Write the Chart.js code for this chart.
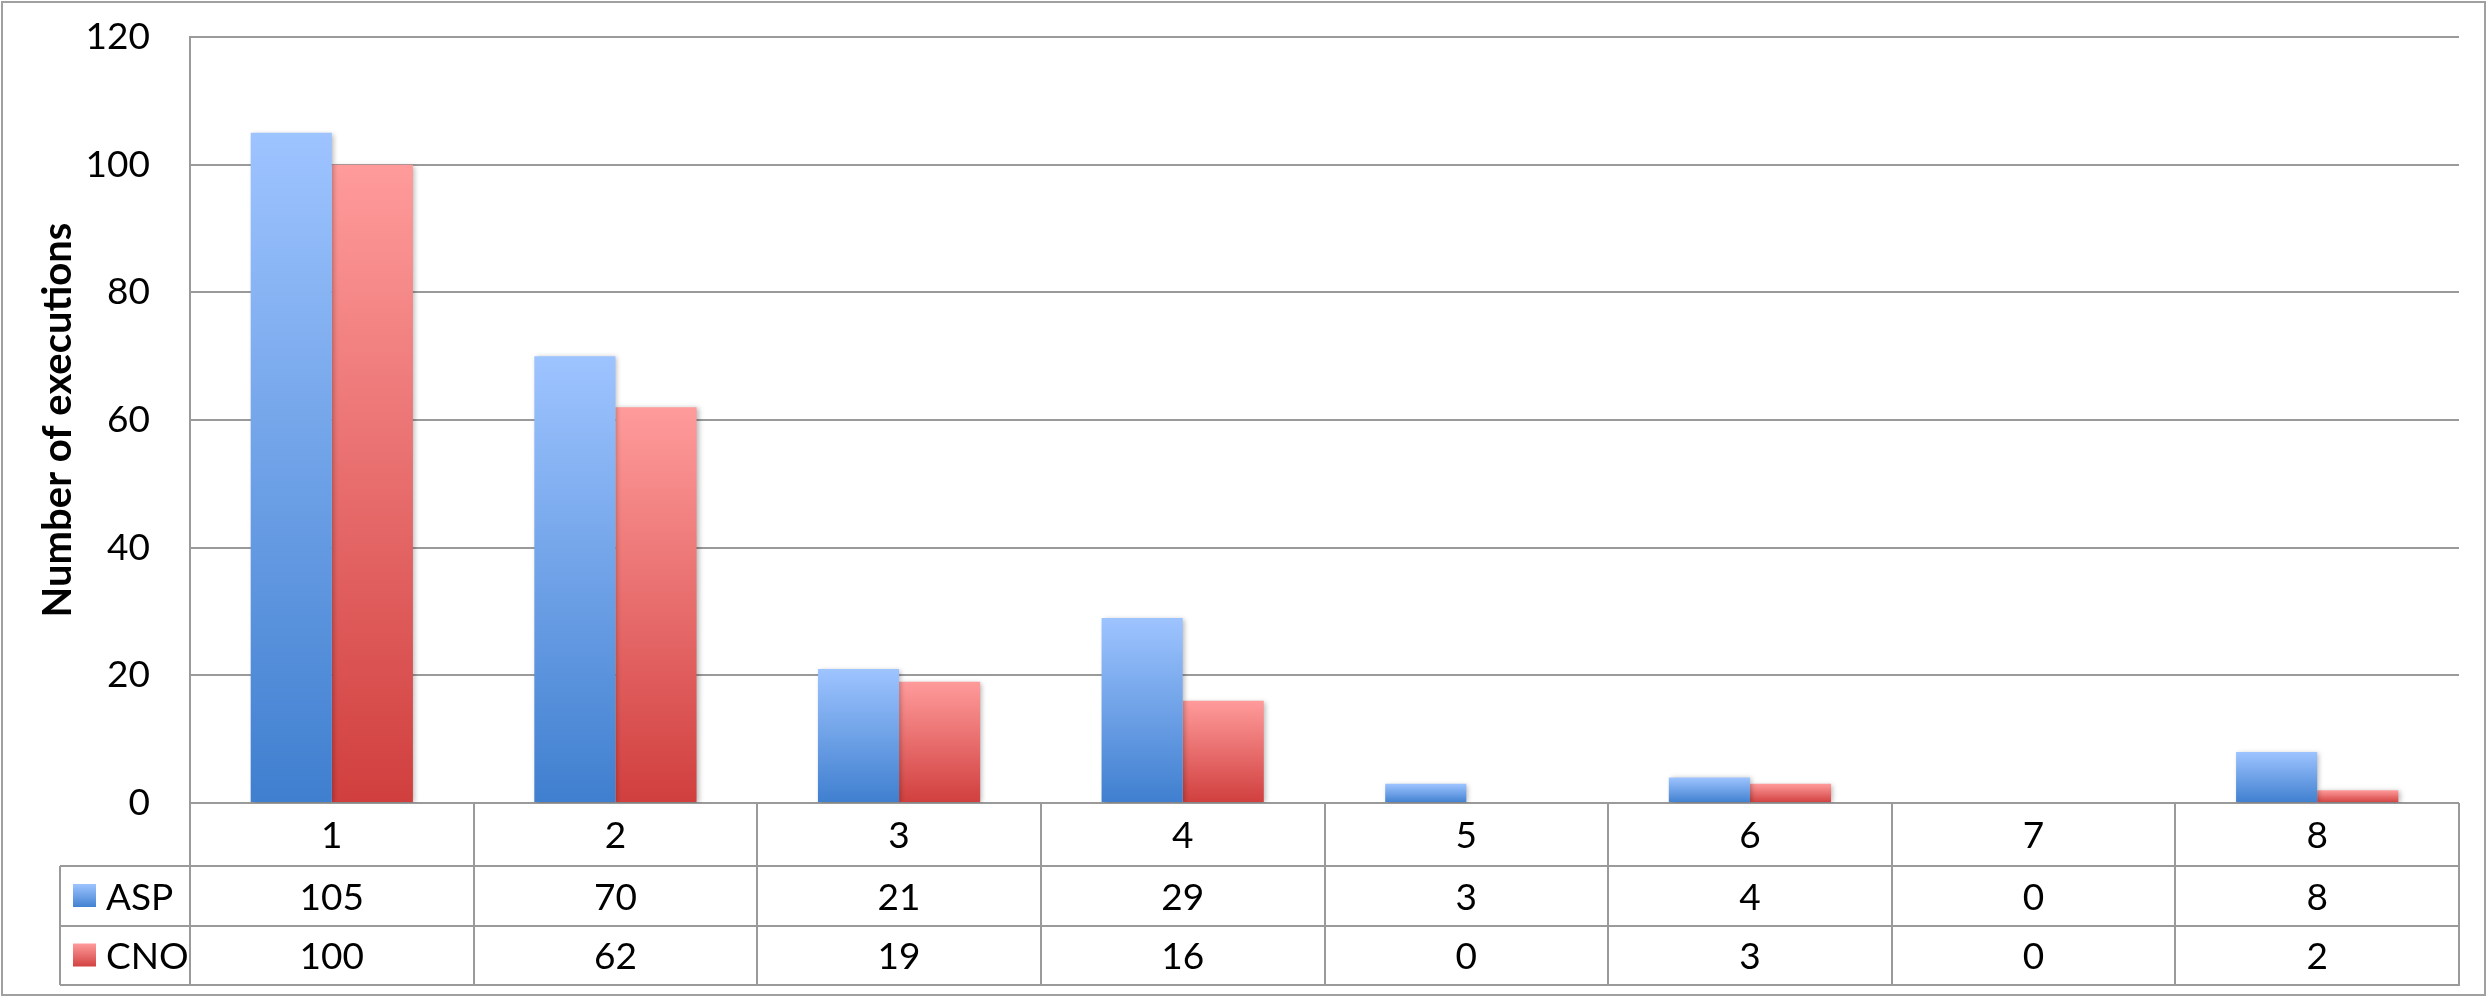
<!DOCTYPE html>
<html>
<head>
<meta charset="utf-8">
<script src="https://cdn.jsdelivr.net/npm/chart.js@4.4.1/dist/chart.umd.min.js"></script>
<style>
  body { margin: 0; background: #fff; }
  #myCanvas { display: block; }
</style>
</head>
<body>
<canvas id="myCanvas" width="2488" height="997"></canvas>
<script>
// datos de la grafica
const categories = ['1', '2', '3', '4', '5', '6', '7', '8'];
const seriesNames = ['ASP', 'CNO'];
const aspValues = [105, 70, 21, 29, 3, 4, 0, 8];
const cnoValues = [100, 62, 19, 16, 0, 3, 0, 2];
const yMax = 120;
const yStep = 20;

const FONT = 'Lato, "Open Sans", sans-serif';
const lineGray = '#9a9a9a';

// colores de degradado (arriba, abajo)
const blueStops = ['#9ec4ff', '#3f7fcf'];
const redStops = ['#ff9b9b', '#d03f3e'];

function barGradient(stops) {
  return function (c) {
    const chart = c.chart;
    if (!chart.chartArea || c.raw === undefined) return stops[1];
    const y = chart.scales.y;
    const top = y.getPixelForValue(c.raw);
    const base = y.getPixelForValue(0);
    if (base - top < 1) return stops[1];
    // degradado en la altura de cada barra
    const g = chart.ctx.createLinearGradient(0, top, 0, base);
    g.addColorStop(0, stops[0]);
    g.addColorStop(1, stops[1]);
    return g;
  };
}

// sombra suave como en excel
const shadowPlugin = {
  id: 'shadow',
  beforeDatasetsDraw(chart) {
    const ctx = chart.ctx;
    ctx.save();
    ctx.shadowColor = 'rgba(0,0,0,0.28)';
    ctx.shadowBlur = 5;
    ctx.shadowOffsetX = 2;
    ctx.shadowOffsetY = 1;
  },
  afterDatasetsDraw(chart) {
    chart.ctx.restore();
  }
};

// tabla de datos debajo del grafico
const tablePlugin = {
  id: 'dataTable',
  afterDraw(chart) {
    const ctx = chart.ctx;
    const x = chart.scales.x;
    const area = chart.chartArea;
    const n = categories.length;
    const colW = x.getPixelForValue(1) - x.getPixelForValue(0);
    const left = x.getPixelForValue(0) - colW / 2;
    const right = left + n * colW;
    const legendLeft = 60;
    const rows = [area.bottom, 866, 926, 985];
    const seriesData = [aspValues, cnoValues];
    const swatches = [blueStops, redStops];

    ctx.save();
    ctx.strokeStyle = lineGray;
    ctx.lineWidth = 2;
    ctx.beginPath();
    // lineas horizontales
    for (let r = 1; r < rows.length; r++) {
      ctx.moveTo(legendLeft, rows[r]);
      ctx.lineTo(right + 1, rows[r]);
    }
    // lineas verticales
    for (let i = 0; i <= n; i++) {
      const px = Math.round(left + i * colW);
      ctx.moveTo(px, rows[0]);
      ctx.lineTo(px, rows[3]);
    }
    ctx.moveTo(legendLeft, rows[1]);
    ctx.lineTo(legendLeft, rows[3]);
    ctx.stroke();

    ctx.fillStyle = '#000';
    ctx.font = '37px ' + FONT;
    ctx.textAlign = 'center';
    ctx.textBaseline = 'middle';
    categories.forEach((cat, i) => {
      const cx = x.getPixelForValue(i);
      ctx.fillText(cat, cx, (rows[0] + rows[1]) / 2 + 2);
      seriesData.forEach((vals, s) => {
        ctx.fillText(String(vals[i]), cx, (rows[s + 1] + rows[s + 2]) / 2 + 2);
      });
    });

    // leyenda en la tabla
    ctx.textAlign = 'left';
    seriesNames.forEach((name, s) => {
      const cy = (rows[s + 1] + rows[s + 2]) / 2;
      const g = ctx.createLinearGradient(0, cy - 12, 0, cy + 12);
      g.addColorStop(0, swatches[s][0]);
      g.addColorStop(1, swatches[s][1]);
      ctx.fillStyle = g;
      ctx.fillRect(73, cy - 12, 23, 23);
      ctx.fillStyle = '#000';
      ctx.fillText(name, 106, cy + 2);
    });

    // borde exterior
    ctx.strokeStyle = '#a0a0a0';
    ctx.lineWidth = 2;
    ctx.strokeRect(2, 2, 2483, 993);
    ctx.restore();
  }
};

const canvas = document.getElementById('myCanvas');
const ctx = canvas.getContext('2d');
const myChart = new Chart(ctx, {
  type: 'bar',
  data: {
    labels: categories,
    datasets: [
      {
        label: seriesNames[0],
        data: aspValues,
        backgroundColor: barGradient(blueStops),
        borderWidth: 0
      },
      {
        label: seriesNames[1],
        data: cnoValues,
        backgroundColor: barGradient(redStops),
        borderWidth: 0
      }
    ]
  },
  options: {
    responsive: false,
    animation: false,
    devicePixelRatio: 1,
    datasets: {
      bar: { categoryPercentage: 0.572, barPercentage: 1.0 }
    },
    layout: {
      padding: { left: 0, top: 37, right: 29, bottom: 194 }
    },
    plugins: {
      legend: { display: false },
      tooltip: { enabled: false }
    },
    scales: {
      x: {
        display: false
      },
      y: {
        min: 0,
        max: yMax,
        afterFit(scale) {
          scale.width = 190;
          scale.paddingTop = 0;
          scale.paddingBottom = 0;
        },
        ticks: {
          stepSize: yStep,
          padding: 40,
          color: '#000',
          font: { family: FONT, size: 37 }
        },
        grid: {
          color: lineGray,
          lineWidth: 2,
          drawTicks: false
        },
        border: { display: true, color: lineGray, width: 2 },
        title: {
          display: true,
          text: 'Number of executions',
          color: '#000',
          font: { family: FONT, size: 40, weight: 'bold' },
          padding: { top: 34, bottom: 0 }
        }
      }
    }
  },
  plugins: [shadowPlugin, tablePlugin]
});
</script>
</body>
</html>
